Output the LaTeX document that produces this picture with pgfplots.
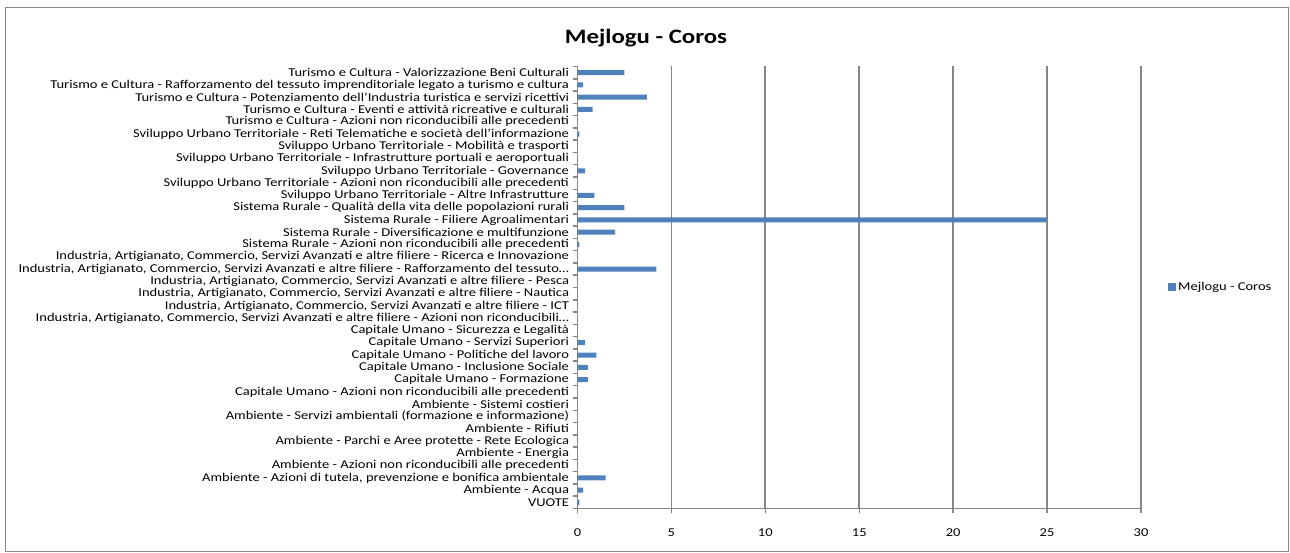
\documentclass[border=0pt]{standalone}
\usepackage{fontspec}
\setmainfont{Carlito}[FakeStretch=1.21]
\usepackage{pgfplots}
\pgfplotsset{compat=1.18}
\definecolor{barblue}{HTML}{4F81BD}
\definecolor{framegray}{HTML}{868686}

\pgfplotstableread{
idx val
0 0.1
1 0.3
2 1.5
3 0
4 0
5 0
6 0
7 0
8 0
9 0
10 0.55
11 0.55
12 1.0
13 0.4
14 0
15 0
16 0
17 0
18 0
19 4.2
20 0
21 0.1
22 2.0
23 25
24 2.5
25 0.9
26 0
27 0.4
28 0
29 0
30 0.1
31 0
32 0.8
33 3.7
34 0.3
35 2.5
}\datatable

\begin{document}
\begin{tikzpicture}
\useasboundingbox (0,0) rectangle (1290pt,553pt);
\draw[framegray, line width=1.5pt] (5.5pt,1.5pt) rectangle (1288.5pt,545.7pt);
\node[font=\fontsize{20.5}{24}\selectfont\bfseries] at (646pt,515pt) {Mejlogu - Coros};
\begin{axis}[
    at={(577.5pt,44.5pt)}, anchor=south west,
    scale only axis,
    width=563.5pt, height=442pt,
    xbar, bar width=5pt,
    xmin=0, xmax=30,
    ymin=-0.5, ymax=35.5,
    xtick={0,5,...,30},
    ytick={0,...,35},
    minor ytick={-0.5,0.5,...,35.5},
    yticklabels={
      VUOTE,
      Ambiente - Acqua,
      {Ambiente - Azioni di tutela, prevenzione e bonifica ambientale},
      Ambiente - Azioni non riconducibili alle precedenti,
      Ambiente - Energia,
      Ambiente - Parchi e Aree protette - Rete Ecologica,
      Ambiente - Rifiuti,
      Ambiente - Servizi ambientali (formazione e informazione),
      Ambiente - Sistemi costieri,
      Capitale Umano - Azioni non riconducibili alle precedenti,
      Capitale Umano - Formazione,
      Capitale Umano - Inclusione Sociale,
      Capitale Umano - Politiche del lavoro,
      Capitale Umano - Servizi Superiori,
      Capitale Umano - Sicurezza e Legalità,
      {Industria, Artigianato, Commercio, Servizi Avanzati e altre filiere - Azioni non riconducibili…},
      {Industria, Artigianato, Commercio, Servizi Avanzati e altre filiere - ICT},
      {Industria, Artigianato, Commercio, Servizi Avanzati e altre filiere - Nautica},
      {Industria, Artigianato, Commercio, Servizi Avanzati e altre filiere - Pesca},
      {Industria, Artigianato, Commercio, Servizi Avanzati e altre filiere - Rafforzamento del tessuto…},
      {Industria, Artigianato, Commercio, Servizi Avanzati e altre filiere - Ricerca e Innovazione},
      Sistema Rurale - Azioni non riconducibili alle precedenti,
      Sistema Rurale - Diversificazione e multifunzione,
      Sistema Rurale - Filiere Agroalimentari,
      Sistema Rurale - Qualità della vita delle popolazioni rurali,
      Sviluppo Urbano Territoriale - Altre Infrastrutture,
      Sviluppo Urbano Territoriale - Azioni non riconducibili alle precedenti,
      Sviluppo Urbano Territoriale - Governance,
      Sviluppo Urbano Territoriale - Infrastrutture portuali e aeroportuali,
      Sviluppo Urbano Territoriale - Mobilità e trasporti,
      Sviluppo Urbano Territoriale - Reti Telematiche e società dell'informazione,
      Turismo e Cultura - Azioni non riconducibili alle precedenti,
      Turismo e Cultura - Eventi e attività ricreative e culturali,
      Turismo e Cultura - Potenziamento dell'Industria turistica e servizi ricettivi,
      Turismo e Cultura - Rafforzamento del tessuto imprenditoriale legato a turismo e cultura,
      Turismo e Cultura - Valorizzazione Beni Culturali},
    yticklabel style={font=\fontsize{12}{12}\selectfont},
    xticklabel style={font=\fontsize{12}{12}\selectfont, yshift=-12pt},
    /pgf/number format/assume math mode=true,
    tick align=outside,
    major tick length=5pt, minor tick length=5pt,
    major y tick style={draw=none},
    minor y tick style={draw=framegray, line width=1.5pt},
    major x tick style={draw=framegray, line width=1.5pt},
    xmajorgrids,
    major grid style={draw=framegray, line width=1.8pt},
    separate axis lines,
    axis x line*=bottom, axis y line*=left,
    axis line style={draw=framegray, line width=1.8pt, -},
    legend style={at={(1,0.5)}, anchor=west, xshift=24pt, draw=none, fill=none,
      font=\fontsize{12}{12}\selectfont},
    legend image code/.code={\fill[barblue] (0pt,-4pt) rectangle (8pt,4pt);},
]
\addplot[fill=barblue, draw=none] table[x=val, y=idx] {\datatable};
\addlegendentry{Mejlogu - Coros}
\end{axis}
\end{tikzpicture}
\end{document}
